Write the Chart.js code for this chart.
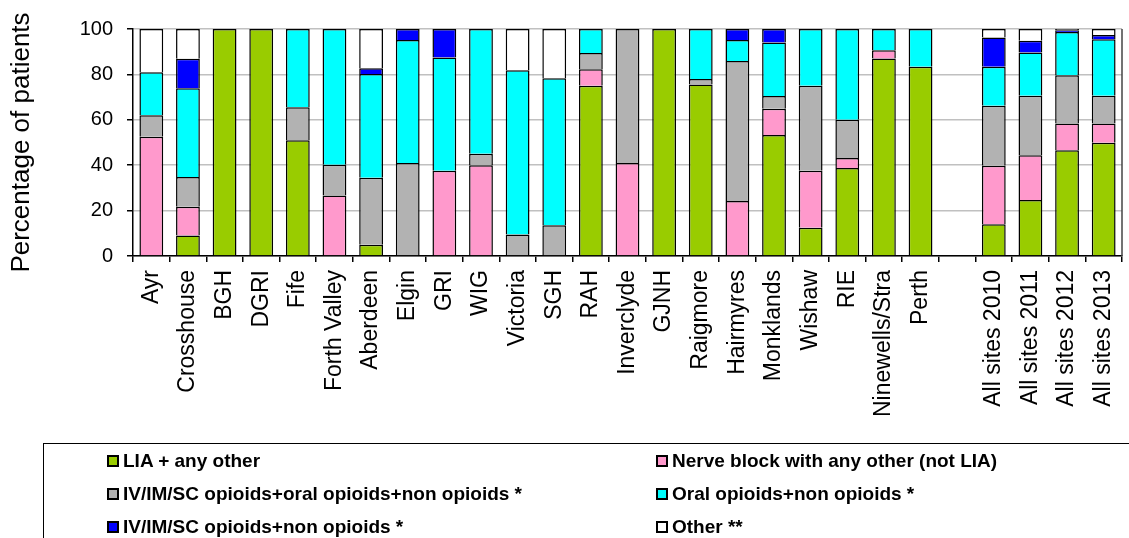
<!DOCTYPE html>
<html>
<head>
<meta charset="utf-8">
<script src="https://cdn.jsdelivr.net/npm/chart.js@4.4.1/dist/chart.umd.min.js"></script>
<style>
  html, body { margin: 0; padding: 0; background: #fff; overflow: hidden; }
  #wrap { position: relative; width: 1129px; height: 538px; }
  #legend {
    position: absolute; left: 43px; top: 443px; width: 1100px; height: 110px;
    border: 1px solid #000; box-sizing: border-box;
    font-family: 'Liberation Sans', Arial, sans-serif; font-weight: bold; font-size: 19px; color: #000;
  }
  #legend .items { position: absolute; left: 63px; top: 0; width: 1100px; }
  #legend .item { display: inline-flex; align-items: center; width: 549px; height: 33.4px; white-space: nowrap; }
  #legend .box { width: 8px; height: 8px; border: 2px solid #000; margin-right: 4px; flex: none; }
</style>
</head>
<body>
<div id="wrap">
  <canvas id="chart" width="1129" height="538"></canvas>
  <div id="legend"><div class="items"></div></div>
</div>
<script>
const sites = ['Ayr', 'Crosshouse', 'BGH', 'DGRI', 'Fife', 'Forth Valley', 'Aberdeen', 'Elgin', 'GRI', 'WIG',
  'Victoria', 'SGH', 'RAH', 'Inverclyde', 'GJNH', 'Raigmore', 'Hairmyres', 'Monklands', 'Wishaw', 'RIE',
  'Ninewells/Stra', 'Perth', '', 'All sites 2010', 'All sites 2011', 'All sites 2012', 'All sites 2013'];

const lia    = [0, 9, 100, 100, 51, 0, 5, 0, 0, 0, 0, 0, 75, 0, 100, 75.6, 0, 53.3, 12.5, 38.8, 87, 83.4, null, 14, 24.7, 46.6, 49.9];
const nerve  = [52.5, 12.7, 0, 0, 0, 26.7, 0, 0, 37.6, 40, 0, 0, 7.3, 41, 0, 0, 24.2, 11.6, 25.1, 4.4, 3.6, 0, null, 25.8, 19.7, 11.8, 8.5];
const ivOral = [9.5, 13.1, 0, 0, 14.5, 13.5, 29.5, 41, 0, 5, 9.5, 13.5, 7.1, 59, 0, 2.4, 61.7, 5.6, 37.4, 16.8, 0, 0, null, 26.4, 26.2, 21.2, 12.2];
const oral   = [19, 39.1, 0, 0, 34.5, 59.8, 45.7, 54.2, 49.8, 55, 72.3, 64.8, 10.6, 0, 0, 22, 9.3, 23.6, 25, 40, 9.4, 16.6, null, 17.2, 19, 19.1, 24.9];
const ivNon  = [0, 13, 0, 0, 0, 0, 2.5, 4.8, 12.6, 0, 0, 0, 0, 0, 0, 0, 4.8, 5.9, 0, 0, 0, 0, null, 12.9, 5.2, 0.7, 1.9];
const other  = [19, 13.1, 0, 0, 0, 0, 17.3, 0, 0, 0, 18.2, 21.7, 0, 0, 0, 0, 0, 0, 0, 0, 0, 0, null, 3.7, 5.2, 0.6, 2.6];

const yTicks = [0, 20, 40, 60, 80, 100];

const seriesNames = ['LIA + any other', 'Nerve block with any other (not LIA)',
  'IV/IM/SC opioids+oral opioids+non opioids *', 'Oral opioids+non opioids *',
  'IV/IM/SC opioids+non opioids *', 'Other **'];
const seriesData = [lia, nerve, ivOral, oral, ivNon, other];
const colors = ['#99cc00', '#ff99cc', '#b2b2b2', '#00ffff', '#0000ff', '#ffffff'];

Chart.defaults.font.family = "'Liberation Sans', Arial, sans-serif";
Chart.defaults.color = '#000';

const datasets = seriesNames.map((name, i) => ({
  label: name,
  data: seriesData[i],
  backgroundColor: colors[i],
  borderColor: '#000',
  borderWidth: 1.5,
  categoryPercentage: 1,
  barPercentage: 0.65
}));

// right edge of the plot area
const frame = {
  id: 'frame',
  afterDraw(chart) {
    const a = chart.chartArea, ctx = chart.ctx;
    ctx.save();
    ctx.strokeStyle = '#444';
    ctx.lineWidth = 1.5;
    ctx.beginPath();
    ctx.moveTo(a.right, a.top);
    ctx.lineTo(a.right, a.bottom);
    ctx.stroke();
    ctx.restore();
  }
};

new Chart(document.getElementById('chart'), {
  type: 'bar',
  data: { labels: sites, datasets: datasets },
  plugins: [frame],
  options: {
    responsive: false,
    animation: false,
    devicePixelRatio: 1,
    layout: { padding: { top: 29, right: 7, left: 0, bottom: 0 } },
    plugins: { legend: { display: false }, tooltip: { enabled: false } },
    scales: {
      x: {
        stacked: true,
        grid: { drawOnChartArea: false, tickLength: 6, tickColor: '#000', lineWidth: 1.5 },
        border: { color: '#000', width: 1.5 },
        ticks: { font: { size: 23 }, minRotation: 90, maxRotation: 90, autoSkip: false, padding: 8 },
        afterFit(scale) { scale.height = 282; scale.paddingLeft = 0; scale.paddingRight = 0; }
      },
      y: {
        stacked: true,
        min: 0,
        max: 100,
        afterBuildTicks(scale) { scale.ticks = yTicks.map(v => ({ value: v })); },
        grid: { color: '#c0c0c0', lineWidth: 1.5, tickLength: 6, tickColor: '#000' },
        border: { color: '#000', width: 1.5 },
        ticks: { font: { size: 20 }, padding: 14 },
        title: { display: true, text: 'Percentage of patients', font: { size: 26 }, padding: { top: 6, bottom: 0 } },
        afterFit(scale) { scale.width = 133; }
      }
    }
  }
});

// legend laid out in two columns like the original
const holder = document.querySelector('#legend .items');
seriesNames.forEach((name, i) => {
  const item = document.createElement('div');
  item.className = 'item';
  const box = document.createElement('span');
  box.className = 'box';
  box.style.background = colors[i];
  const txt = document.createElement('span');
  txt.textContent = name;
  item.appendChild(box);
  item.appendChild(txt);
  holder.appendChild(item);
});
</script>
</body>
</html>
